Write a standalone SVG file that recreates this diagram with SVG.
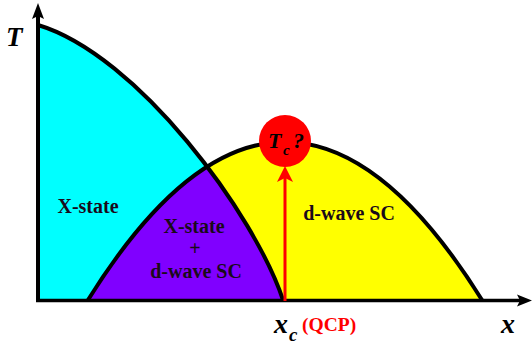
<svg xmlns="http://www.w3.org/2000/svg" width="532" height="345" viewBox="0 0 532 345">
  <style>
    .lbl { font-family: 'Liberation Serif', serif; font-weight: 700; fill: #1a0a1a; text-anchor: middle; font-size: 20px; }
    .var { font-family: 'Liberation Serif', serif; font-weight: 700; font-style: italic; fill: #000; }
    .qcp { font-family: 'Liberation Serif', serif; font-weight: 700; fill: #ff0000; font-size: 19.5px; }
    .curve { fill: none; stroke: #000; stroke-width: 4; }
  </style>
  <defs>
    <clipPath id="xclip">
      <path d="M38,300 L38,25 C138,55 255,215 283,300 Z"/>
    </clipPath>
  </defs>
  <rect width="532" height="345" fill="#fff"/>
  <g id="phases">
    <path id="x-state-region" d="M38,300 L38,25 C138,55 255,215 283,300 Z" fill="#00ffff"/>
    <path id="sc-region" d="M88,300 Q285,-16 482,300 Z" fill="#ffff00"/>
    <path id="coexist-region" d="M88,300 Q285,-16 482,300 Z" fill="#8000ff" clip-path="url(#xclip)"/>
  </g>
  <g id="boundaries">
    <path class="curve" d="M38,25 C138,55 255,215 283,300"/>
    <path class="curve" d="M88,300 Q285,-16 482,300"/>
  </g>
  <g id="axes">
    <line x1="38" y1="302" x2="38" y2="14" stroke="#000" stroke-width="4"/>
    <path d="M38,3 L44,19 L38,16 L32,19 Z" fill="#000"/>
    <line x1="36" y1="300.5" x2="522" y2="300.5" stroke="#000" stroke-width="3.5"/>
    <path d="M532,300.5 L517,294.5 L520,300.5 L517,306.5 Z" fill="#000"/>
    <text class="var" x="6" y="46" font-size="27">T</text>
    <text class="var" x="501" y="333" font-size="28">x</text>
  </g>
  <g id="labels">
    <text class="lbl" x="88" y="213">X-state</text>
    <text class="lbl" x="194" y="233">X-state</text>
    <text class="lbl" x="195" y="255">+</text>
    <text class="lbl" x="196" y="278">d-wave SC</text>
    <text class="lbl" x="349" y="220">d-wave SC</text>
  </g>
  <g id="qcp-arrow">
    <line x1="285" y1="301" x2="285" y2="178" stroke="#ff0000" stroke-width="3"/>
    <path d="M285,166 L293,182 L285,178 L277,182 Z" fill="#ff0000"/>
  </g>
  <g id="tc-node">
    <circle cx="285" cy="141" r="26" fill="#ff0000"/>
    <text class="var" x="268" y="148" font-size="22">T</text>
    <text class="var" x="283" y="155" font-size="15">c</text>
    <text class="var" x="293" y="148" font-size="22">?</text>
  </g>
  <g id="xc-label">
    <text class="var" x="274" y="333" font-size="28">x</text>
    <text class="var" x="289" y="341" font-size="19">c</text>
    <text class="qcp" x="302" y="331">(QCP)</text>
  </g>
</svg>
